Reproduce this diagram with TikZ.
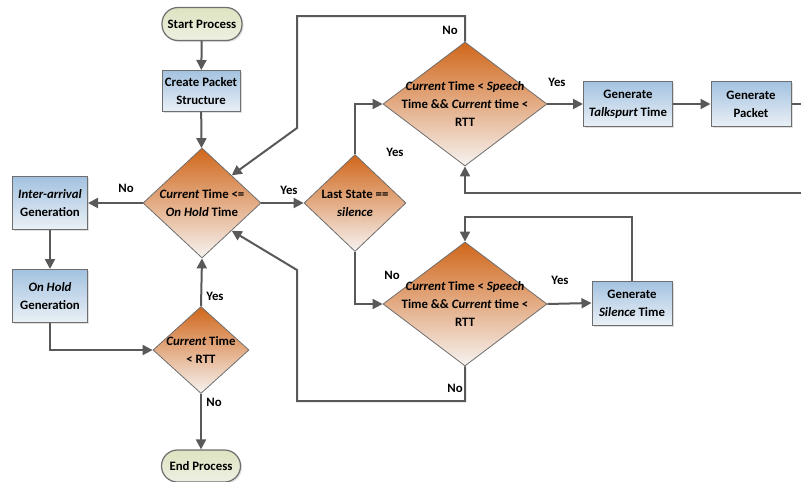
\documentclass[tikz,border=0pt]{standalone}
\usepackage{fontspec}
\setmainfont{Carlito}
\usetikzlibrary{shapes.geometric,arrows.meta,shadows}

\definecolor{wire}{HTML}{595959}
\definecolor{frameline}{HTML}{6E6E6E}
\definecolor{boxtop}{HTML}{A3C2E0}
\definecolor{boxbot}{HTML}{EAF0F6}
\definecolor{diatop}{HTML}{D0661A}
\definecolor{diamid}{HTML}{E6A371}
\definecolor{diabot}{HTML}{F6F3F1}
\definecolor{termtop}{HTML}{DDE3C0}
\definecolor{termbot}{HTML}{EEF0E2}

\begin{document}
\begin{tikzpicture}[x=1pt,y=-1pt,
  font=\fontsize{12.8}{18}\selectfont\bfseries,
  line/.style={draw=wire, line width=2pt},
  arr/.style={line, -{Triangle[length=10pt,width=10pt]}},
  shade/.style={drop shadow={shadow xshift=1.5pt, shadow yshift=-1.5pt, opacity=0.25}},
  procbox/.style={draw=frameline, line width=1pt, top color=boxtop, bottom color=boxbot,
    align=center, inner sep=0pt, shade},
  termbox/.style={draw=frameline, line width=1.2pt, top color=termtop, bottom color=termbot,
    rounded corners=16pt, align=center, inner sep=0pt, shade},
  decision/.style={diamond, draw=frameline, line width=0.8pt, top color=diatop,
    middle color=diamid, bottom color=diabot, inner sep=0pt},
  dtext/.style={align=center, inner sep=0pt},
  lab/.style={inner sep=0pt}
]
\useasboundingbox (0,0) rectangle (801,482);

% terminals and process boxes
\node[termbox, minimum width=80pt, minimum height=33pt] (start) at (202,24) {Start Process};
\node[procbox, minimum width=78pt, minimum height=41pt] (create) at (201,91) {Create Packet\\Structure};
\node[procbox, minimum width=75pt, minimum height=53pt] (inter) at (50,203) {\textit{Inter-arrival}\\Generation};
\node[procbox, minimum width=75pt, minimum height=53pt] (onhold) at (50,296) {\textit{On Hold}\\Generation};
\node[termbox, minimum width=79pt, minimum height=32pt] (end) at (201,466) {End Process};
\node[procbox, minimum width=89pt, minimum height=45pt] (talk) at (628,104) {Generate\\\textit{Talkspurt} Time};
\node[procbox, minimum width=80pt, minimum height=45pt] (packet) at (751,104) {Generate\\Packet};
\node[procbox, minimum width=80pt, minimum height=44pt] (silence) at (632,303) {Generate\\\textit{Silence} Time};

% decisions
\node[decision, minimum width=118pt, minimum height=110pt] (d1) at (202,203) {};
\node[dtext] (d1t) at (d1) {\textit{Current} Time <=\\\textit{On Hold} Time};
\node[decision, minimum width=102pt, minimum height=97pt] (d2) at (355,203) {};
\node[dtext] (d2t) at (d2) {Last State ==\\\textit{silence}};
\node[decision, minimum width=164pt, minimum height=124pt] (d3) at (465,104) {};
\node[dtext] (d3t) at (d3) {\textit{Current} Time < \textit{Speech}\\Time \&\& \textit{Current} time <\\RTT};
\node[decision, minimum width=164pt, minimum height=124pt] (d5) at (465,304) {};
\node[dtext] (d5t) at (d5) {\textit{Current} Time < \textit{Speech}\\Time \&\& \textit{Current} time <\\RTT};
\node[decision, minimum width=96pt, minimum height=87pt] (d4) at (201,350) {};
\node[dtext] (d4t) at (d4) {\textit{Current} Time\\< RTT};

% free ends and bends
\coordinate (pout) at (801,104);
\coordinate (pin) at (801,193);
\coordinate (sloop) at (632,217);
\coordinate (ntop) at (297,16);
\coordinate (nbend) at (297,128);
\coordinate (nbot) at (297,401);
\coordinate (sbend) at (297,270);

% connectors
\draw[arr] (start) -- (create);
\draw[arr] (create) -- (d1);
\draw[arr] (d1.west) -- (inter.east);
\draw[arr] (d1.east) -- (d2.west);
\draw[arr] (inter) -- (onhold);
\draw[arr] (onhold.south) |- (d4.west);
\draw[arr] (d4.north) -- (d1.south);
\draw[arr] (d4.south) -- (end.north);
\draw[arr] (d2.north) |- (d3.west);
\draw[arr] (d2.south) |- (d5.west);
\draw[arr] (d3.east) -- (talk.west);
\draw[arr] (talk) -- (packet);
\draw[line] (packet.east) -- (pout);
\draw[arr] (pin) -| (d3.south);
\draw[arr] (d5.east) -- (silence.west);
\draw[arr] (silence.north) -- (sloop) -| (d5.north);
\draw[arr] (d3.north) |- (ntop) -- (nbend) -- (d1.north east);
\draw[arr] (d5.south) |- (nbot) -- (sbend) -- (d1.south east);

% branch labels
\node[lab] (l1) at (126,188) {No};
\node[lab] (l2) at (289,190) {Yes};
\node[lab] (l3) at (215,296) {Yes};
\node[lab] (l4) at (214,402) {No};
\node[lab] (l5) at (395,152) {Yes};
\node[lab] (l6) at (392,275) {No};
\node[lab] (l7) at (557,82) {Yes};
\node[lab] (l8) at (560,280) {Yes};
\node[lab] (l9) at (450,30) {No};
\node[lab] (l10) at (455,388) {No};
\end{tikzpicture}
\end{document}
